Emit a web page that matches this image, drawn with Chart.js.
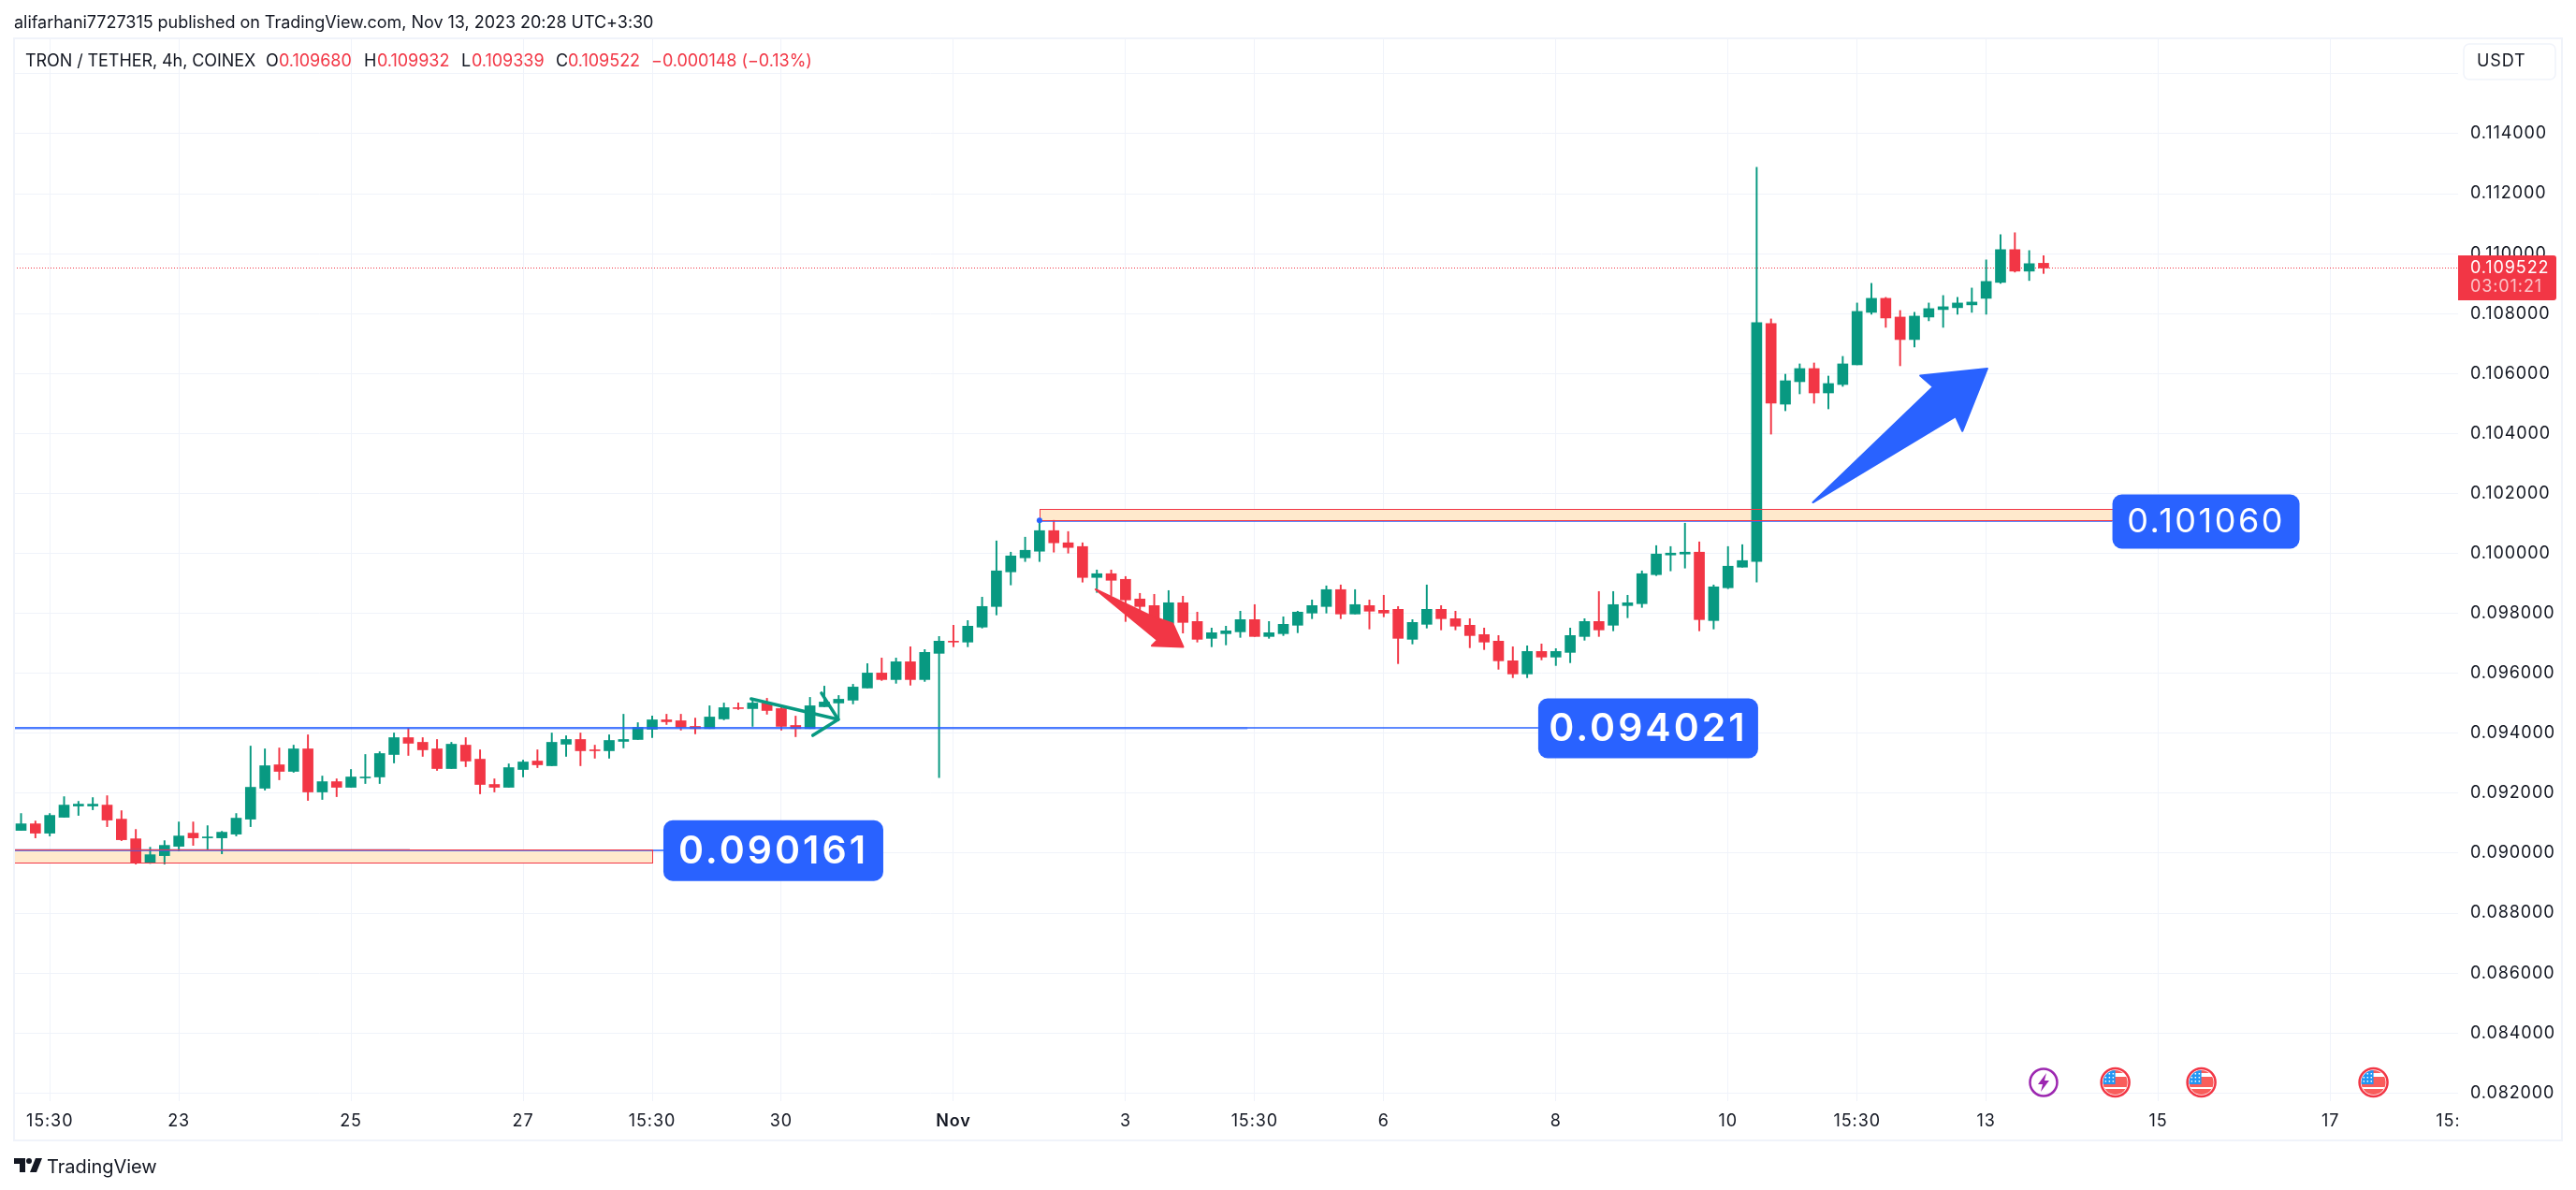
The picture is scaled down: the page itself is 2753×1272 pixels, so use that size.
<!DOCTYPE html>
<html>
<head>
<meta charset="utf-8">
<title>TRON / TETHER</title>
<script src="https://cdn.jsdelivr.net/npm/chart.js@4"></script>
<style>
    html, body { margin: 0; padding: 0; background: #ffffff; }
    body { width: 2753px; height: 1272px; position: relative; overflow: hidden; font-family: Inter, sans-serif; color: #131722; }
    #chart { position: absolute; left: 0; top: 0; }
    .txt { position: absolute; white-space: nowrap; font-size: 18px; line-height: 22px; letter-spacing: -0.03px; }
    .red { color: #f23645; }
</style>
</head>
<body>
<canvas id="chart" width="2753" height="1272"></canvas>
<div class="txt" style="left:15px;top:13px">alifarhani7727315 published on TradingView.com, Nov 13, 2023 20:28 UTC+3:30</div>
<div class="txt" style="left:27px;top:54px;letter-spacing:-0.08px">TRON / TETHER, 4h, COINEX</div>
<div class="txt" style="left:284px;top:54px">O</div><div class="txt red" style="left:298px;top:54px">0.109680</div>
<div class="txt" style="left:389px;top:54px">H</div><div class="txt red" style="left:403px;top:54px">0.109932</div>
<div class="txt" style="left:493px;top:54px">L</div><div class="txt red" style="left:504px;top:54px">0.109339</div>
<div class="txt" style="left:594px;top:54px">C</div><div class="txt red" style="left:607px;top:54px">0.109522</div>
<div class="txt red" style="left:696px;top:54px">−0.000148 (−0.13%)</div>
<svg style="position:absolute;left:15px;top:1238px" width="30" height="15" viewBox="0 0 30 15">
    <path d="M0 0h12v15H6V6H0z" fill="#131722"/>
    <circle cx="16" cy="3" r="3" fill="#131722"/>
    <path d="M23 0h7l-6 15h-7z" fill="#131722"/>
</svg>
<div class="txt" style="left:50px;top:1235px;font-size:20px;line-height:24px">TradingView</div>

<script>
// Candles
const opens = [
    0.090760, 0.090979, 0.090667, 0.091198, 0.091573, 0.091573, 0.091604, 0.091135, 0.090479, 0.089688,
    0.089917, 0.090229, 0.090667, 0.090510, 0.090510, 0.090635, 0.091135, 0.092167, 0.092948, 0.092729,
    0.093479, 0.092042, 0.092385, 0.092198, 0.092510, 0.092542, 0.093292, 0.093854, 0.093698, 0.093479,
    0.092823, 0.093604, 0.093135, 0.092292, 0.092198, 0.092792, 0.093073, 0.092917, 0.093635, 0.093792,
    0.093448, 0.093417, 0.093729, 0.093792, 0.094135, 0.094448, 0.094417, 0.094229, 0.094156, 0.094479,
    0.094854, 0.094823, 0.095010, 0.094823, 0.094260, 0.094156, 0.094885, 0.095010, 0.095104, 0.095510,
    0.096010, 0.095792, 0.096385, 0.095792, 0.096667, 0.097073, 0.097042, 0.097542, 0.098229, 0.099385,
    0.099854, 0.100073, 0.100760, 0.100354, 0.100229, 0.099198, 0.099323, 0.099135, 0.098479, 0.098260,
    0.097667, 0.098354, 0.097729, 0.097167, 0.097323, 0.097385, 0.097792, 0.097229, 0.097323, 0.097604,
    0.098010, 0.098229, 0.098792, 0.097979, 0.098260, 0.098104, 0.098135, 0.097135, 0.097635, 0.098135,
    0.097823, 0.097604, 0.097292, 0.097073, 0.096417, 0.095979, 0.096729, 0.096542, 0.096698, 0.097229,
    0.097729, 0.097604, 0.098260, 0.098323, 0.099292, 0.099948, 0.099979, 0.100042, 0.097760, 0.098854,
    0.099542, 0.099729, 0.107667, 0.104979, 0.105729, 0.106167, 0.105354, 0.105635, 0.106292, 0.108042,
    0.108510, 0.107885, 0.107135, 0.107885, 0.108135, 0.108198, 0.108292, 0.108510, 0.109042, 0.110135,
    0.109417, 0.109680
];
const highs = [
    0.091323, 0.091073, 0.091323, 0.091885, 0.091729, 0.091854, 0.091917, 0.091417, 0.090792, 0.090198,
    0.090417, 0.091042, 0.091042, 0.090917, 0.090729, 0.091323, 0.093573, 0.093479, 0.093510, 0.093604,
    0.093948, 0.092573, 0.092479, 0.092792, 0.093292, 0.093385, 0.094010, 0.094167, 0.093854, 0.093792,
    0.093698, 0.093854, 0.093448, 0.092479, 0.092979, 0.093104, 0.093448, 0.094010, 0.093917, 0.094010,
    0.093604, 0.093948, 0.094635, 0.094354, 0.094573, 0.094635, 0.094635, 0.094510, 0.094917, 0.095010,
    0.095010, 0.095104, 0.095167, 0.094917, 0.094573, 0.095198, 0.095573, 0.095260, 0.095635, 0.096323,
    0.096510, 0.096510, 0.096885, 0.096792, 0.097229, 0.097604, 0.097760, 0.098542, 0.100417, 0.100042,
    0.100542, 0.101104, 0.101104, 0.100729, 0.100354, 0.099448, 0.099448, 0.099229, 0.098667, 0.098635,
    0.098760, 0.098573, 0.098042, 0.097510, 0.097573, 0.098073, 0.098292, 0.097729, 0.097885, 0.098073,
    0.098448, 0.098917, 0.098948, 0.098792, 0.098448, 0.098604, 0.098229, 0.097792, 0.098948, 0.098260,
    0.098073, 0.097823, 0.097510, 0.097260, 0.096885, 0.096917, 0.096979, 0.096823, 0.097510, 0.097823,
    0.098729, 0.098729, 0.098604, 0.099417, 0.100260, 0.100229, 0.101010, 0.100385, 0.098948, 0.100229,
    0.100292, 0.112885, 0.107823, 0.105979, 0.106323, 0.106354, 0.105917, 0.106573, 0.108354, 0.109010,
    0.108542, 0.108104, 0.108042, 0.108354, 0.108604, 0.108542, 0.108854, 0.109792, 0.110635, 0.110698,
    0.110104, 0.109932
];
const lows = [
    0.090760, 0.090510, 0.090573, 0.091198, 0.091260, 0.091448, 0.090885, 0.090417, 0.089635, 0.089656,
    0.089635, 0.090073, 0.090260, 0.090104, 0.089979, 0.090573, 0.090885, 0.092104, 0.092448, 0.092698,
    0.091760, 0.091792, 0.091885, 0.092198, 0.092323, 0.092323, 0.093010, 0.093260, 0.093229, 0.092760,
    0.092823, 0.092885, 0.091979, 0.092042, 0.092198, 0.092542, 0.092854, 0.092917, 0.093229, 0.092917,
    0.093167, 0.093167, 0.093510, 0.093792, 0.093854, 0.094292, 0.094104, 0.093979, 0.094156, 0.094448,
    0.094792, 0.094229, 0.094635, 0.094104, 0.093885, 0.094156, 0.094885, 0.094448, 0.094979, 0.095510,
    0.095760, 0.095667, 0.095604, 0.095729, 0.092521, 0.096885, 0.096885, 0.097510, 0.097948, 0.098948,
    0.099729, 0.099729, 0.100042, 0.100010, 0.099042, 0.098698, 0.098594, 0.097729, 0.098073, 0.097573,
    0.097344, 0.097344, 0.097042, 0.096885, 0.096948, 0.097198, 0.097229, 0.097167, 0.097260, 0.097354,
    0.097823, 0.098010, 0.097823, 0.097979, 0.097479, 0.097885, 0.096323, 0.096979, 0.097510, 0.097448,
    0.097448, 0.096854, 0.096792, 0.096135, 0.095854, 0.095854, 0.096448, 0.096260, 0.096354, 0.097104,
    0.097229, 0.097417, 0.097854, 0.098198, 0.099260, 0.099417, 0.099510, 0.097417, 0.097479, 0.098823,
    0.099542, 0.099042, 0.103979, 0.104760, 0.105323, 0.105010, 0.104823, 0.105573, 0.106292, 0.107979,
    0.107542, 0.106260, 0.106885, 0.107760, 0.107542, 0.107979, 0.108042, 0.107979, 0.109010, 0.109385,
    0.109104, 0.109339
];
const closes = [
    0.090979, 0.090667, 0.091260, 0.091604, 0.091635, 0.091635, 0.091104, 0.090448, 0.089688, 0.089948,
    0.090260, 0.090573, 0.090510, 0.090542, 0.090698, 0.091167, 0.092198, 0.092917, 0.092729, 0.093479,
    0.092042, 0.092385, 0.092198, 0.092542, 0.092542, 0.093323, 0.093854, 0.093667, 0.093448, 0.092823,
    0.093635, 0.093073, 0.092292, 0.092198, 0.092854, 0.093042, 0.092948, 0.093698, 0.093792, 0.093417,
    0.093417, 0.093760, 0.093792, 0.094198, 0.094448, 0.094385, 0.094198, 0.094156, 0.094542, 0.094854,
    0.094823, 0.095010, 0.094760, 0.094229, 0.094156, 0.094917, 0.095042, 0.095135, 0.095542, 0.096010,
    0.095792, 0.096385, 0.095792, 0.096698, 0.097073, 0.097042, 0.097573, 0.098229, 0.099417, 0.099917,
    0.100104, 0.100760, 0.100354, 0.100198, 0.099198, 0.099323, 0.099104, 0.098448, 0.098229, 0.097698,
    0.098354, 0.097698, 0.097135, 0.097354, 0.097417, 0.097792, 0.097229, 0.097354, 0.097635, 0.098042,
    0.098260, 0.098792, 0.097979, 0.098292, 0.098073, 0.098010, 0.097167, 0.097698, 0.098135, 0.097823,
    0.097573, 0.097260, 0.097042, 0.096417, 0.095979, 0.096729, 0.096542, 0.096729, 0.097260, 0.097729,
    0.097448, 0.098292, 0.098354, 0.099323, 0.099979, 0.100010, 0.100042, 0.097792, 0.098885, 0.099573,
    0.099760, 0.107698, 0.105010, 0.105760, 0.106167, 0.105354, 0.105667, 0.106323, 0.108073, 0.108510,
    0.107854, 0.107135, 0.107917, 0.108167, 0.108229, 0.108354, 0.108385, 0.109073, 0.110135, 0.109417,
    0.109667, 0.109522
];

// Axes
const timeTicks = [2, 11, 23, 35, 44, 53, 65, 77, 86, 95, 107, 119, 128, 137, 149, 161];
const timeLabels = ['15:30', '23', '25', '27', '15:30', '30', 'Nov', '3', '15:30', '6', '8', '10', '15:30', '13', '15', '17'];
const clippedTick = 170;
const clippedLabel = '15:30';
const priceTicks = [0.082, 0.084, 0.086, 0.088, 0.09, 0.092, 0.094, 0.096, 0.098, 0.1, 0.102, 0.104, 0.106, 0.108, 0.11, 0.112, 0.114, 0.116];
const indexMin = -0.49;
const indexMax = 169.9;
const priceMin = 0.081728;
const priceMax = 0.117183;

// Drawings on the chart, [bar index, price]
const zoneLeft = [indexMin, 71];
const zoneRight = [44, 146];
const zoneTop = [0.090115, 0.101469];
const zoneBottom = [0.089688, 0.101110];
const levelStart = [indexMin, indexMin, 71];
const levelEnd = [44.78, 105.77, 145.8];
const levelPrice = [0.090085, 0.094167, 0.101063];
const levelText = ['0.090161', '0.094021', '0.101060'];
const lastPrice = 0.109522;
const countdown = '03:01:21';
const greenArrowShaft = [[50.9, 0.09515], [56.97, 0.09446]];
const greenArrowHead = [[55.8, 0.09534], [56.97, 0.09446], [55.2, 0.09393]];
const redArrow = [[74.91, 0.0988], [78.74, 0.09792], [80.29, 0.09766], [81.02, 0.09688], [78.83, 0.09692], [79.22, 0.09711]];
const blueArrow = [[137.08, 0.106166], [132.4, 0.10593], [133.3, 0.10556], [124.92, 0.1017], [134.87, 0.10457], [135.34, 0.10408]];
const pivotDot = [71, 0.101104];
const boltEvent = 141;
const flagEvents = [146, 152, 164];

const GREEN = '#089981';
const RED = '#f23645';
const BLUE = '#2962ff';
const GRID = '#f0f3fa';
const TEXT = '#131722';
const FONT = 'Inter, sans-serif';
const AXIS_SPACING = '0.9px';

const colors = closes.map((c, i) => c >= opens[i] ? GREEN : RED);
const wicks = lows.map((l, i) => ({ x: i, y: [l, highs[i]] }));
const bodies = opens.map((o, i) => ({ x: i, y: [Math.min(o, closes[i]), Math.max(o, closes[i])] }));

function poly(ctx, x, y, points) {
    ctx.beginPath();
    points.forEach((p, n) => {
        if (n === 0) ctx.moveTo(x.getPixelForValue(p[0]), y.getPixelForValue(p[1]));
        else ctx.lineTo(x.getPixelForValue(p[0]), y.getPixelForValue(p[1]));
    });
}

// Horizontal lines snap to whole pixels so they stay crisp
function hLine(ctx, x, y, from, to, price, color, width) {
    const py = Math.round(y.getPixelForValue(price)) + (Math.round(width) % 2 ? 0.5 : 0);
    ctx.strokeStyle = color;
    ctx.lineWidth = width;
    ctx.beginPath();
    ctx.moveTo(x.getPixelForValue(from), py);
    ctx.lineTo(x.getPixelForValue(to), py);
    ctx.stroke();
}

function strokeZone(ctx, x, y, i) {
    const left = Math.round(x.getPixelForValue(zoneLeft[i])) + 0.5;
    const top = Math.round(y.getPixelForValue(zoneTop[i])) + 0.5;
    const right = Math.round(x.getPixelForValue(zoneRight[i])) + 0.5;
    const bottom = Math.round(y.getPixelForValue(zoneBottom[i])) + 0.5;
    ctx.strokeStyle = RED;
    ctx.lineWidth = 1;
    ctx.strokeRect(left, top, right - left, bottom - top);
}

function flagIcon(ctx, cx, cy) {
    ctx.save();
    ctx.beginPath();
    ctx.arc(cx, cy, 13, 0, Math.PI * 2);
    ctx.fillStyle = '#ffffff';
    ctx.fill();
    ctx.clip();
    ctx.fillStyle = '#f95d5b';
    [-13, -6, 1, 7].forEach(dy => ctx.fillRect(cx - 15, cy + dy, 30, dy === -13 ? 3 : (dy === 1 ? 6 : 7)));
    ctx.fillStyle = '#ffffff';
    ctx.fillRect(cx - 15, cy + 7 - 2, 30, 2);
    ctx.fillStyle = '#2196f3';
    ctx.fillRect(cx - 15, cy - 13, 15, 15);
    ctx.fillStyle = '#ffffff';
    for (let a = 0; a < 3; a++) {
        for (let b = 0; b < 3; b++) ctx.fillRect(cx - 11 + a * 4, cy - 10 + b * 4, 1.5, 1.5);
    }
    ctx.restore();
    ctx.beginPath();
    ctx.arc(cx, cy, 15, 0, Math.PI * 2);
    ctx.strokeStyle = RED;
    ctx.lineWidth = 2.5;
    ctx.stroke();
}

function boltIcon(ctx, cx, cy) {
    ctx.beginPath();
    ctx.arc(cx, cy, 14.5, 0, Math.PI * 2);
    ctx.strokeStyle = '#9c27b0';
    ctx.lineWidth = 2.5;
    ctx.stroke();
    ctx.fillStyle = '#9c27b0';
    ctx.beginPath();
    ctx.moveTo(cx + 3, cy - 10);
    ctx.lineTo(cx - 6, cy + 2);
    ctx.lineTo(cx - 1, cy + 2);
    ctx.lineTo(cx - 3, cy + 10);
    ctx.lineTo(cx + 6, cy - 2);
    ctx.lineTo(cx + 1, cy - 2);
    ctx.closePath();
    ctx.fill();
}

function levelLabel(ctx, left, cy, text, w, h, size, weight, spacing) {
    ctx.fillStyle = BLUE;
    ctx.beginPath();
    ctx.roundRect(left, cy - h / 2, w, h, 10);
    ctx.fill();
    ctx.fillStyle = '#ffffff';
    ctx.font = weight + ' ' + size + 'px ' + FONT;
    ctx.letterSpacing = spacing;
    ctx.textAlign = 'center';
    ctx.textBaseline = 'middle';
    ctx.fillText(text, left + w / 2, cy + 1);
    ctx.letterSpacing = '0px';
}

// Zones go under the candles
const underCandles = {
    id: 'underCandles',
    beforeDraw(chart) {
        // the axis text is spaced out a little wider than plain Inter
        chart.ctx.letterSpacing = AXIS_SPACING;
    },
    beforeDatasetsDraw(chart) {
        const { ctx, scales: { x, y } } = chart;
        ctx.save();
        zoneLeft.forEach((l, i) => {
            const left = x.getPixelForValue(l);
            const top = y.getPixelForValue(zoneTop[i]);
            ctx.fillStyle = '#ffe9cc';
            ctx.fillRect(left, top, x.getPixelForValue(zoneRight[i]) - left, y.getPixelForValue(zoneBottom[i]) - top);
        });
        ctx.setLineDash([1, 2]);
        hLine(ctx, x, y, indexMin, indexMax, lastPrice, RED, 1);
        ctx.restore();
    }
};

// Lines, arrows, labels and the frame go on top
const overCandles = {
    id: 'overCandles',
    afterDatasetsDraw(chart) {
        const { ctx, scales: { x, y } } = chart;
        ctx.save();
        // older faint copies of two of the lines
        hLine(ctx, x, y, indexMin, 85.5, levelPrice[1], 'rgba(41,98,255,0.35)', 3);
        hLine(ctx, x, y, indexMin, 27.1, 0.09013, 'rgba(120,90,170,0.3)', 2);
        levelPrice.forEach((p, i) => hLine(ctx, x, y, levelStart[i], levelEnd[i], p, BLUE, 1.6));
        zoneLeft.forEach((l, i) => strokeZone(ctx, x, y, i));

        ctx.lineCap = 'round';
        ctx.lineJoin = 'round';
        ctx.strokeStyle = GREEN;
        ctx.lineWidth = 3.5;
        poly(ctx, x, y, greenArrowShaft);
        ctx.stroke();
        poly(ctx, x, y, greenArrowHead);
        ctx.stroke();

        ctx.lineWidth = 2;
        ctx.fillStyle = RED;
        ctx.strokeStyle = RED;
        poly(ctx, x, y, redArrow);
        ctx.closePath();
        ctx.fill();
        ctx.stroke();

        ctx.fillStyle = BLUE;
        ctx.strokeStyle = BLUE;
        poly(ctx, x, y, blueArrow);
        ctx.closePath();
        ctx.fill();
        ctx.stroke();

        ctx.beginPath();
        ctx.arc(x.getPixelForValue(pivotDot[0]), y.getPixelForValue(pivotDot[1]), 3, 0, Math.PI * 2);
        ctx.fill();

        levelLabel(ctx, x.getPixelForValue(levelEnd[0]), y.getPixelForValue(levelPrice[0]), levelText[0], 235, 65, 41, 600, '3px');
        levelLabel(ctx, x.getPixelForValue(levelEnd[1]), y.getPixelForValue(levelPrice[1]), levelText[1], 235, 64, 41, 600, '3px');
        levelLabel(ctx, x.getPixelForValue(levelEnd[2]), y.getPixelForValue(levelPrice[2]), levelText[2], 200, 58, 36, 400, '2.5px');

        boltIcon(ctx, x.getPixelForValue(boltEvent), 1157);
        flagEvents.forEach(f => flagIcon(ctx, x.getPixelForValue(f), 1157));
        ctx.restore();
    },
    afterDraw(chart) {
        const { ctx, scales: { x } } = chart;
        ctx.save();
        // the last time label runs off the pane
        ctx.save();
        ctx.beginPath();
        ctx.rect(15, 1178, x.right - 15, 40);
        ctx.clip();
        ctx.font = '18px ' + FONT;
        ctx.fillStyle = TEXT;
        ctx.textAlign = 'center';
        ctx.textBaseline = 'middle';
        ctx.fillText(clippedLabel, x.getPixelForValue(clippedTick), 1199);
        ctx.restore();

        // price tag on the axis
        ctx.fillStyle = RED;
        ctx.beginPath();
        ctx.roundRect(x.right, 273, 105, 48, [0, 3, 3, 0]);
        ctx.fill();
        ctx.font = '18px ' + FONT;
        ctx.textAlign = 'left';
        ctx.textBaseline = 'middle';
        ctx.fillStyle = '#ffffff';
        ctx.fillText(lastPrice.toFixed(6), x.right + 13, 287);
        ctx.fillStyle = 'rgba(255,255,255,0.7)';
        ctx.fillText(countdown, x.right + 13, 307);

        // currency button
        ctx.fillStyle = '#ffffff';
        ctx.strokeStyle = GRID;
        ctx.lineWidth = 1.5;
        ctx.beginPath();
        ctx.roundRect(2633, 47, 98, 38, 6);
        ctx.fill();
        ctx.stroke();
        ctx.fillStyle = TEXT;
        ctx.fillText('USDT', 2647, 66);

        // frame
        ctx.strokeStyle = GRID;
        ctx.lineWidth = 2;
        ctx.strokeRect(15, 41, 2723, 1178);
        ctx.restore();
    }
};

Chart.defaults.font.family = FONT;
Chart.defaults.font.size = 18;
Chart.defaults.color = TEXT;

new Chart(document.getElementById('chart').getContext('2d'), {
    type: 'bar',
    data: {
        datasets: [
            { data: bodies, backgroundColor: colors, barThickness: 11, grouped: false },
            { data: wicks, backgroundColor: colors, barThickness: 1.3, grouped: false }
        ]
    },
    plugins: [underCandles, overCandles],
    options: {
        responsive: false,
        animation: false,
        events: [],
        layout: { padding: { left: 15, top: 41, right: 15, bottom: 53 } },
        plugins: { legend: { display: false }, tooltip: { enabled: false } },
        scales: {
            x: {
                type: 'linear',
                bounds: 'data',
                offset: false,
                min: indexMin,
                max: indexMax,
                border: { display: false },
                grid: { color: GRID, offset: false, drawTicks: false },
                afterBuildTicks(axis) { axis.ticks = timeTicks.map(v => ({ value: v })); },
                afterFit(axis) { axis.height = 42; },
                ticks: {
                    autoSkip: false,
                    maxRotation: 0,
                    padding: 11,
                    callback: value => timeLabels[timeTicks.indexOf(value)],
                    font: ctx => ({ size: 18, weight: ctx.tick && ctx.tick.label === 'Nov' ? '600' : '400' })
                }
            },
            y: {
                position: 'right',
                bounds: 'data',
                min: priceMin,
                max: priceMax,
                border: { display: false },
                grid: { color: GRID, drawTicks: false },
                afterBuildTicks(axis) { axis.ticks = priceTicks.map(v => ({ value: v })); },
                afterFit(axis) { axis.width = 111; },
                ticks: {
                    padding: 13,
                    crossAlign: 'near',
                    callback: value => value > 0.115 ? '' : value.toFixed(6)
                }
            }
        }
    }
});
</script>
</body>
</html>
